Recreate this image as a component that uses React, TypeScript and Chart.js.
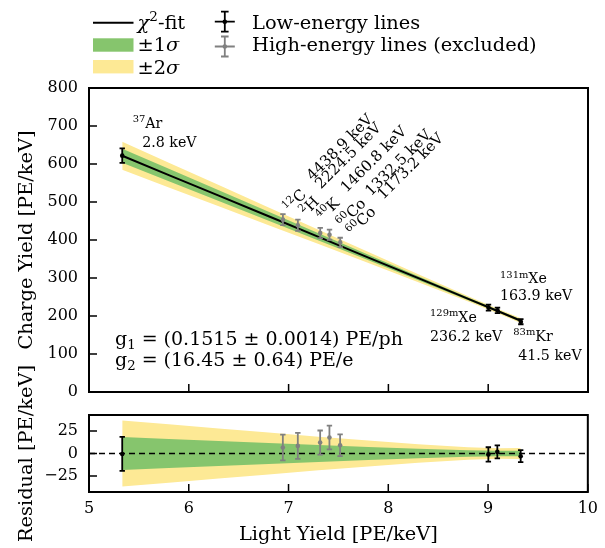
import React, { useEffect, useRef } from "react";
import { Chart, registerables } from "chart.js";
Chart.register(...registerables);

const FONT = '"DejaVu Serif", "Liberation Serif", serif';
const GREEN = "#86c56d";
const YELLOW = "#fde995";
const GRAY = "#808080";
const BIG = 19.4;
const ANN = 14.2;
const ROT = 15;

// ---- axes ----
const X_TICKS = [5, 6, 7, 8, 9, 10];
const CY_TICKS = [0, 100, 200, 300, 400, 500, 600, 700, 800];
const RES_TICKS = [-25, 0, 25];

// ---- low-energy lines (fit) ----
const lowLY = [5.333, 9.003, 9.093, 9.327];
const lowCY = [622, 222, 215, 185];
const lowErr = [19, 8, 7.2, 6.7];
const lowRes = [-0.5, -1, 1.8, -3];

// ---- high-energy lines (excluded) ----
const highLY = [6.943, 7.093, 7.317, 7.41, 7.517];
const highCY = [453.6, 439, 418.2, 413.9, 393.7];
const highErr = [14.4, 14.6, 13.5, 13.3, 12.2];
const highRes = [6.7, 8.5, 12.2, 17.8, 9.2];

// ---- fit and confidence bands ----
const bandLY = [5.333, 5.8, 6.3, 6.8, 7.3, 7.8, 8.3, 8.8, 9.1, 9.327];
const fitCY = [621.6, 570.9, 516.6, 462.4, 408.1, 353.8, 299.5, 245.2, 212.6, 187.6];
const sigma1 = [18.4, 16.3, 14.0, 11.7, 9.4, 7.2, 5.2, 3.5, 3.0, 3.1];
const sigma2 = [36.8, 32.6, 28.0, 23.4, 18.8, 14.4, 10.4, 7.0, 6.0, 6.2];

type Part = { t: string; s?: "sup" | "sub"; it?: boolean };

function drawRich(ctx: CanvasRenderingContext2D, parts: Part[], x: number, y: number, size: number) {
  let cx = x;
  for (const p of parts) {
    const sz = p.s ? size * 0.7 : size;
    ctx.font = `${p.it ? "italic " : ""}${sz}px ${FONT}`;
    const dy = p.s === "sup" ? -size * 0.38 : p.s === "sub" ? size * 0.22 : 0;
    ctx.fillText(p.t, cx, y + dy);
    cx += ctx.measureText(p.t).width;
  }
  return cx - x;
}

const pts = (xs: number[], ys: number[]) => xs.map((x, i) => ({ x, y: ys[i] }));

function errorBarPlugin(sets: { xs: number[]; ys: number[]; err: number[]; color: string }[]) {
  return {
    id: "errbars",
    afterDatasetsDraw(chart: any) {
      const { ctx, scales } = chart;
      const x = scales.x, y = scales.y;
      ctx.save();
      for (const s of sets) {
        ctx.strokeStyle = s.color;
        ctx.lineWidth = 1.8;
        s.xs.forEach((xv, i) => {
          const px = x.getPixelForValue(xv);
          const p1 = y.getPixelForValue(s.ys[i] - s.err[i]);
          const p2 = y.getPixelForValue(s.ys[i] + s.err[i]);
          ctx.beginPath();
          ctx.moveTo(px, p1);
          ctx.lineTo(px, p2);
          ctx.moveTo(px - 2.7, p1);
          ctx.lineTo(px + 2.7, p1);
          ctx.moveTo(px - 2.7, p2);
          ctx.lineTo(px + 2.7, p2);
          ctx.stroke();
        });
      }
      ctx.restore();
    },
  };
}

function framePlugin(xTicks: number[], yTicks: number[]) {
  return {
    id: "frame",
    afterDraw(chart: any) {
      const { ctx, chartArea, scales } = chart;
      const { left, right, top, bottom } = chartArea;
      ctx.save();
      ctx.strokeStyle = "#000";
      ctx.lineWidth = 1.5;
      ctx.beginPath();
      xTicks.forEach((v) => {
        const px = scales.x.getPixelForValue(v);
        ctx.moveTo(px, bottom);
        ctx.lineTo(px, bottom - 8);
      });
      yTicks.forEach((v) => {
        const py = scales.y.getPixelForValue(v);
        ctx.moveTo(left, py);
        ctx.lineTo(left + 8, py);
      });
      ctx.stroke();
      ctx.lineWidth = 2;
      ctx.strokeRect(left, top, right - left, bottom - top);
      ctx.restore();
    },
  };
}

const legendPlugin = {
  id: "customLegend",
  afterDraw(chart: any) {
    const ctx: CanvasRenderingContext2D = chart.ctx;
    ctx.save();
    ctx.fillStyle = "#000";
    ctx.textBaseline = "alphabetic";
    ctx.textAlign = "left";
    ctx.strokeStyle = "#000";
    ctx.lineWidth = 2;
    ctx.beginPath();
    ctx.moveTo(93, 22.7);
    ctx.lineTo(133.5, 22.7);
    ctx.stroke();
    drawRich(ctx, [{ t: "\u03c7", it: true }, { t: "2", s: "sup" }, { t: "-fit" }], 137.5, 28.7, BIG);
    ctx.fillStyle = GREEN;
    ctx.fillRect(93, 38.3, 40.5, 13.4);
    ctx.fillStyle = "#000";
    drawRich(ctx, [{ t: "\u00b11" }, { t: "\u03c3", it: true }], 137.5, 51.2, BIG);
    ctx.fillStyle = YELLOW;
    ctx.fillRect(93, 60, 40.5, 13.4);
    ctx.fillStyle = "#000";
    drawRich(ctx, [{ t: "\u00b12" }, { t: "\u03c3", it: true }], 137.5, 73.5, BIG);
    const icon = (cx: number, cy: number, col: string) => {
      ctx.strokeStyle = col;
      ctx.fillStyle = col;
      ctx.lineWidth = 1.8;
      ctx.beginPath();
      ctx.moveTo(cx, cy - 10);
      ctx.lineTo(cx, cy + 10);
      ctx.moveTo(cx - 3.8, cy - 10);
      ctx.lineTo(cx + 3.8, cy - 10);
      ctx.moveTo(cx - 3.8, cy + 10);
      ctx.lineTo(cx + 3.8, cy + 10);
      ctx.moveTo(cx - 10, cy);
      ctx.lineTo(cx + 10, cy);
      ctx.stroke();
      ctx.beginPath();
      ctx.arc(cx, cy, 2.3, 0, Math.PI * 2);
      ctx.fill();
    };
    icon(224.8, 21.7, "#000");
    icon(224.8, 46.5, GRAY);
    ctx.fillStyle = "#000";
    ctx.font = `${BIG}px ${FONT}`;
    ctx.fillText("Low-energy lines", 252, 28.7);
    ctx.fillText("High-energy lines (excluded)", 252, 51.2);
    ctx.restore();
  },
};

const annotationPlugin = {
  id: "annotations",
  afterDraw(chart: any) {
    const ctx: CanvasRenderingContext2D = chart.ctx;
    ctx.save();
    ctx.fillStyle = "#000";
    ctx.textAlign = "left";
    ctx.textBaseline = "alphabetic";
    const S = ANN;
    drawRich(ctx, [{ t: "37", s: "sup" }, { t: "Ar" }], 132.7, 127.7, S);
    drawRich(ctx, [{ t: "2.8 keV" }], 142.3, 146.7, S);
    drawRich(ctx, [{ t: "131m", s: "sup" }, { t: "Xe" }], 500, 283.3, S);
    drawRich(ctx, [{ t: "163.9 keV" }], 500, 300, S);
    drawRich(ctx, [{ t: "129m", s: "sup" }, { t: "Xe" }], 430, 321.7, S);
    drawRich(ctx, [{ t: "236.2 keV" }], 430, 340.7, S);
    drawRich(ctx, [{ t: "83m", s: "sup" }, { t: "Kr" }], 513.3, 340.7, S);
    drawRich(ctx, [{ t: "41.5 keV" }], 518.3, 360, S);

    const rot: { iso: Part[]; ix: number; iy: number; e: string; ex: number; ey: number }[] = [
      { iso: [{ t: "12", s: "sup" }, { t: "C" }], ix: 289.5, iy: 213, e: "4438.9 keV", ex: 312.5, ey: 181 },
      { iso: [{ t: "2", s: "sup" }, { t: "H" }], ix: 306, iy: 216.5, e: "2224.5 keV", ex: 321, ey: 189.5 },
      { iso: [{ t: "40", s: "sup" }, { t: "K" }], ix: 322.8, iy: 221.5, e: "1460.8 keV", ex: 346.5, ey: 193 },
      { iso: [{ t: "60", s: "sup" }, { t: "Co" }], ix: 342.8, iy: 228.3, e: "1332.5 keV", ex: 371, ey: 196.5 },
      { iso: [{ t: "60", s: "sup" }, { t: "Co" }], ix: 352.8, iy: 236.5, e: "1173.2 keV", ex: 383.3, ey: 200 },
    ];
    for (const r of rot) {
      ctx.save();
      ctx.translate(r.ix, r.iy);
      ctx.rotate(-Math.PI / 4);
      drawRich(ctx, r.iso, 0, 0, ROT);
      ctx.restore();
      ctx.save();
      ctx.translate(r.ex, r.ey);
      ctx.rotate(-Math.PI / 4);
      drawRich(ctx, [{ t: r.e }], 0, 0, ROT);
      ctx.restore();
    }

    drawRich(ctx, [{ t: "g" }, { t: "1", s: "sub" }, { t: " = (0.1515 \u00b1 0.0014) PE/ph" }], 115, 345, 19);
    drawRich(ctx, [{ t: "g" }, { t: "2", s: "sub" }, { t: " = (16.45 \u00b1 0.64) PE/e" }], 115, 365.5, 19);
    ctx.restore();
  },
};

const lineDs = (data: any[], extra: any) => ({
  type: "line",
  data,
  pointRadius: 0,
  borderWidth: 0,
  borderColor: "rgba(0,0,0,0)",
  tension: 0,
  fill: false,
  ...extra,
});

const scatterDs = (data: any[], color: string) => ({
  type: "scatter",
  data,
  showLine: false,
  pointRadius: 2.3,
  pointBackgroundColor: color,
  pointBorderWidth: 0,
  borderColor: color,
});

const yAxisBase = (min: number, max: number, ticks: number[], title: string) => ({
  type: "linear",
  min,
  max,
  afterBuildTicks(s: any) {
    s.ticks = ticks.map((v) => ({ value: v }));
  },
  ticks: {
    font: { family: FONT, size: 16 },
    color: "#000",
    padding: 11,
    callback: (v: any) => (v < 0 ? "\u2212" + Math.abs(v) : String(v)),
  },
  grid: { display: false, drawTicks: false },
  border: { display: false },
  title: { display: true, text: title, font: { family: FONT, size: BIG }, color: "#000", padding: { top: 15.5, bottom: 0 } },
  afterFit(s: any) {
    s.width = 89;
  },
});

export default function App() {
  const r1 = useRef<HTMLCanvasElement>(null);
  const r2 = useRef<HTMLCanvasElement>(null);

  useEffect(() => {
    const lower1 = fitCY.map((v, i) => v - sigma1[i]);
    const upper1 = fitCY.map((v, i) => v + sigma1[i]);
    const lower2 = fitCY.map((v, i) => v - sigma2[i]);
    const upper2 = fitCY.map((v, i) => v + sigma2[i]);

    const main = new Chart(r1.current as HTMLCanvasElement, {
      type: "scatter",
      data: {
        datasets: [
          scatterDs(pts(lowLY, lowCY), "#000"),
          scatterDs(pts(highLY, highCY), GRAY),
          lineDs(pts(bandLY, fitCY), { borderWidth: 2, borderColor: "#000" }),
          lineDs(pts(bandLY, lower1), {}),
          lineDs(pts(bandLY, upper1), { fill: "-1", backgroundColor: GREEN }),
          lineDs(pts(bandLY, lower2), {}),
          lineDs(pts(bandLY, upper2), { fill: "-1", backgroundColor: YELLOW }),
        ] as any,
      },
      options: {
        responsive: false,
        animation: false,
        layout: { padding: { left: 0, right: 17, top: 88, bottom: 156 } },
        plugins: { legend: { display: false }, tooltip: { enabled: false } },
        scales: {
          x: {
            type: "linear",
            min: 5,
            max: 10,
            ticks: { display: false },
            grid: { display: false, drawTicks: false },
            border: { display: false },
            afterFit(s: any) {
              s.height = 0;
            },
          },
          y: yAxisBase(0, 800, CY_TICKS, "Charge Yield [PE/keV]"),
        } as any,
      },
      plugins: [
        errorBarPlugin([
          { xs: highLY, ys: highCY, err: highErr, color: GRAY },
          { xs: lowLY, ys: lowCY, err: lowErr, color: "#000" },
        ]),
        framePlugin(X_TICKS, CY_TICKS),
        legendPlugin,
        annotationPlugin,
      ] as any,
    });

    const neg1 = sigma1.map((v) => -v);
    const neg2 = sigma2.map((v) => -v);
    const res = new Chart(r2.current as HTMLCanvasElement, {
      type: "scatter",
      data: {
        datasets: [
          scatterDs(pts(lowLY, lowRes), "#000"),
          scatterDs(pts(highLY, highRes), GRAY),
          lineDs(
            [
              { x: 5, y: 0 },
              { x: 10, y: 0 },
            ],
            { borderWidth: 1.5, borderColor: "#000", borderDash: [6, 4] }
          ),
          lineDs(pts(bandLY, neg1), {}),
          lineDs(pts(bandLY, sigma1), { fill: "-1", backgroundColor: GREEN }),
          lineDs(pts(bandLY, neg2), {}),
          lineDs(pts(bandLY, sigma2), { fill: "-1", backgroundColor: YELLOW }),
        ] as any,
      },
      options: {
        responsive: false,
        animation: false,
        layout: { padding: { left: 0, right: 17, top: 415, bottom: 0 } },
        plugins: { legend: { display: false }, tooltip: { enabled: false } },
        scales: {
          x: {
            type: "linear",
            min: 5,
            max: 10,
            afterBuildTicks(s: any) {
              s.ticks = X_TICKS.map((v) => ({ value: v }));
            },
            ticks: { font: { family: FONT, size: 16 }, color: "#000", padding: 7, maxRotation: 0 },
            grid: { display: false, drawTicks: false },
            border: { display: false },
            title: {
              display: true,
              text: "Light Yield [PE/keV]",
              font: { family: FONT, size: BIG },
              color: "#000",
              padding: { top: 0, bottom: 1 },
            },
            afterFit(s: any) {
              s.height = 56;
            },
          },
          y: yAxisBase(-43, 43, RES_TICKS, "Residual [PE/keV]"),
        } as any,
      },
      plugins: [
        errorBarPlugin([
          { xs: highLY, ys: highRes, err: highErr, color: GRAY },
          { xs: lowLY, ys: lowRes, err: lowErr, color: "#000" },
        ]),
        framePlugin(X_TICKS, RES_TICKS),
      ] as any,
    });

    return () => {
      main.destroy();
      res.destroy();
    };
  }, []);

  return (
    <div style={{ position: "fixed", left: 0, top: 0, width: 605, height: 548, background: "#fff" }}>
      <canvas ref={r2} width={605} height={548} style={{ position: "absolute", left: 0, top: 0 }} />
      <canvas ref={r1} width={605} height={548} style={{ position: "absolute", left: 0, top: 0 }} />
    </div>
  );
}
